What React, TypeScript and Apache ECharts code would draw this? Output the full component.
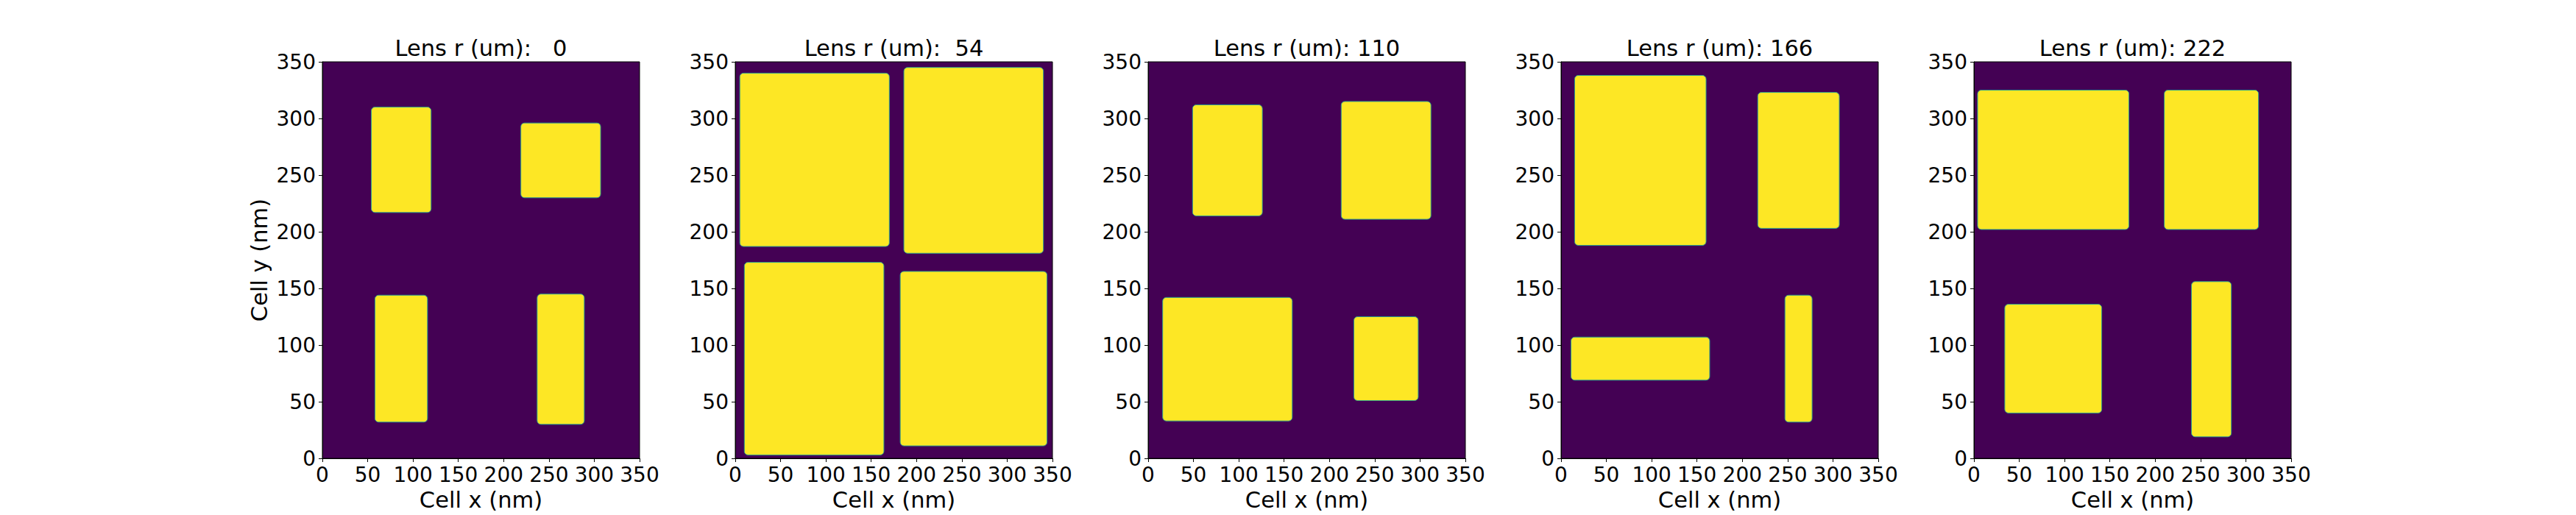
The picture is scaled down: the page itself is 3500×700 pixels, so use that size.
import { useEffect, useRef } from 'react';
import * as echarts from 'echarts';

// lens radius of each panel (um)
const lensRadii = [0, 54, 110, 166, 222];

// yellow cells of each panel, [x0, x1, y0, y1] in nm
const cellsLens0 = [
  [54, 120, 217, 310],
  [219, 307, 230, 296],
  [58, 116, 32, 144],
  [237, 289, 30, 145]
];
const cellsLens54 = [
  [5, 170, 187, 340],
  [186, 340, 181, 345],
  [10, 164, 3, 173],
  [182, 344, 11, 165]
];
const cellsLens110 = [
  [49, 126, 214, 312],
  [213, 312, 211, 315],
  [16, 159, 33, 142],
  [227, 298, 51, 125]
];
const cellsLens166 = [
  [15, 160, 188, 338],
  [217, 307, 203, 323],
  [11, 164, 69, 107],
  [247, 277, 32, 144]
];
const cellsLens222 = [
  [4, 171, 202, 325],
  [210, 314, 202, 325],
  [34, 141, 40, 136],
  [240, 284, 19, 156]
];
const panelCells = [cellsLens0, cellsLens54, cellsLens110, cellsLens166, cellsLens222];

// axis range and ticks
const axisMin = 0;
const axisMax = 350;
const tickStep = 50;

const FONT = 'DejaVu Sans';
const BG = '#440154';
const FILL = '#fde725';

const App = () => {
  const chartRef = useRef<HTMLDivElement>(null);

  useEffect(() => {
    if (!chartRef.current) return;
    document.body.style.margin = '0';
    const chart = echarts.init(chartRef.current, null, { renderer: 'svg' });

    const gridTop = 84;
    const gridW = 431;
    const gridH = 539;
    const lefts = lensRadii.map((_, i) => 438 + i * 561);

    const axisCommon = {
      type: 'value' as const,
      min: axisMin,
      max: axisMax,
      interval: tickStep,
      splitLine: { show: false },
      axisLine: { show: true, lineStyle: { color: '#000', width: 1 } },
      axisTick: { show: true, inside: false, length: 5, lineStyle: { color: '#000', width: 1 } },
      axisLabel: { color: '#000', fontFamily: FONT, fontSize: 28, margin: 8 },
      nameTextStyle: { color: '#000', fontFamily: FONT, fontSize: 30.5 }
    };

    const option: any = {
      animation: false,
      backgroundColor: '#fff',
      title: lensRadii.map((r, i) => ({
        text: `Lens r (um): ${String(r).padStart(3, ' ')}`,
        left: lefts[i] + gridW / 2,
        top: 50,
        textAlign: 'center',
        padding: 0,
        textStyle: { color: '#000', fontFamily: FONT, fontSize: 30.5, fontWeight: 'normal' }
      })),
      grid: lensRadii.map((_, i) => ({
        left: lefts[i],
        top: gridTop,
        width: gridW,
        height: gridH,
        show: true,
        backgroundColor: BG,
        borderColor: '#000',
        borderWidth: 1
      })),
      xAxis: lensRadii.map((_, i) => ({
        ...axisCommon,
        gridIndex: i,
        name: 'Cell x (nm)',
        nameLocation: 'middle',
        nameGap: 40
      })),
      yAxis: lensRadii.map((_, i) => ({
        ...axisCommon,
        gridIndex: i,
        axisLabel: { ...axisCommon.axisLabel, margin: 9 },
        name: i === 0 ? 'Cell y (nm)' : '',
        nameLocation: 'middle',
        nameRotate: 90,
        nameGap: 70
      })),
      series: panelCells.map((cells, i) => ({
        type: 'custom',
        xAxisIndex: i,
        yAxisIndex: i,
        data: cells,
        renderItem: (params: any, api: any) => {
          const p0 = api.coord([api.value(0), api.value(3)]);
          const p1 = api.coord([api.value(1), api.value(2)]);
          return {
            type: 'rect',
            shape: { x: p0[0], y: p0[1], width: p1[0] - p0[0], height: p1[1] - p0[1], r: 5 },
            style: { fill: FILL, stroke: '#2a9d8c', lineWidth: 1 }
          };
        }
      }))
    };

    chart.setOption(option);

    return () => {
      if (!chart.isDisposed()) chart.dispose();
    };
  }, []);

  return <div ref={chartRef} style={{ width: '3500px', height: '700px' }} />;
};

export default App;
